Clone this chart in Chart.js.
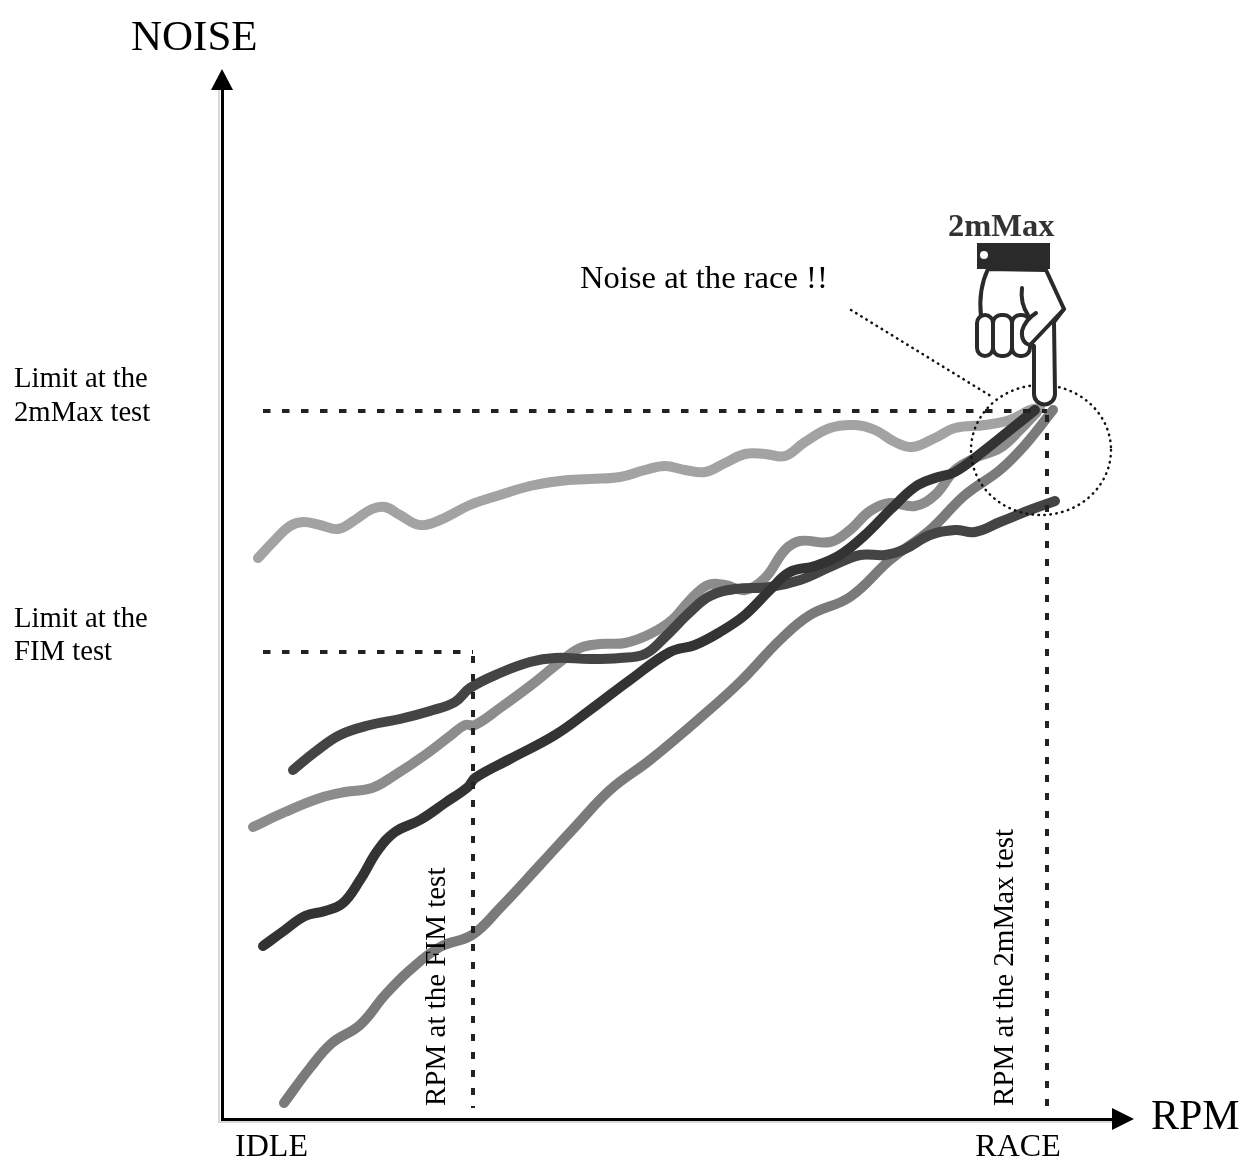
<!DOCTYPE html>
<html>
<head>
<meta charset="utf-8">
<title>Noise vs RPM</title>
<script src="https://cdn.jsdelivr.net/npm/chart.js@4"></script>
<style>
  html, body { margin: 0; padding: 0; background: #fff; }
  canvas { display: block; }
</style>
</head>
<body>
<canvas id="myChart" width="1245" height="1160"></canvas>
<script>
const rpmTicks = [49.5, 796];
const rpmTickLabels = ['IDLE', 'RACE'];

const rpmA = [36,53,68,81,98,116,133,150,163,178,198,218,248,278,308,338,368,398,423,443,463,483,503,523,543,563,583,608,633,653,673,690,713,733,763,788,808,818];
const noiseA = [561,579,593,597,594,590,599,610,612,604,594,599,614,624,633,638,640,642,649,653,649,647,656,665,665,663,677,691,694,689,677,672,681,691,694,699,709,711];

const rpmB = [31,63,98,123,150,173,203,228,243,253,278,308,338,358,378,403,428,450,468,486,503,523,543,563,578,608,628,648,668,693,713,733,753,778,798,815];
const noiseB = [292,307,321,327,331,344,364,383,394,394,411,433,457,471,475,476,485,499,519,534,534,529,541,569,578,577,589,608,616,613,624,649,661,671,689,707];

const rpmC = [71,93,118,148,178,208,233,248,278,308,333,368,398,423,443,468,488,513,548,578,608,638,663,683,708,733,753,778,808,833];
const noiseC = [349,367,384,394,400,408,417,431,446,457,461,460,461,465,482,507,523,530,532,539,552,564,564,570,584,589,587,597,609,618];

const rpmD = [41,63,83,103,121,138,156,173,198,223,246,253,288,333,368,408,448,473,498,523,548,568,593,618,643,668,693,713,733,763,788,813];
const noiseD = [173,189,203,208,216,239,269,287,299,316,332,341,360,384,409,439,467,474,487,504,529,547,553,564,584,609,632,641,647,669,689,709];

const rpmE = [62,88,110,138,163,188,218,250,278,318,353,388,428,478,518,558,588,628,668,708,743,778,803,831];
const noiseE = [16,51,76,94,124,149,172,184,211,254,292,329,359,401,437,479,504,522,559,589,624,649,674,709];

// test limits and test rpm
const limit2mMax = 708;
const limitFim = 467;
const rpmFim = 251;
const rpm2mMax = 825;

function pairs(xs, ys) {
  return xs.map((x, i) => ({x: x, y: ys[i]}));
}

function curve(xs, ys, color, order) {
  return {
    data: pairs(xs, ys),
    borderColor: color,
    borderWidth: 10,
    borderCapStyle: 'round',
    borderJoinStyle: 'round',
    pointRadius: 0,
    tension: 0.4,
    order: order
  };
}

function dashed(xs, ys, dash) {
  return {
    data: pairs(xs, ys),
    borderColor: '#222',
    borderWidth: 4,
    borderDash: dash,
    pointRadius: 0,
    tension: 0,
    order: 0
  };
}

const SERIF = '"Liberation Serif"';

// everything that is not a data mark: arrows, titles, notes, hand
const notes = {
  id: 'notes',
  beforeDraw(chart) {
    const c = chart.ctx;
    const a = chart.chartArea;
    // faint halo next to the axes
    c.save();
    c.strokeStyle = '#d8d8d8';
    c.lineWidth = 2;
    c.beginPath();
    c.moveTo(a.left - 3, a.top);
    c.lineTo(a.left - 3, a.bottom + 3);
    c.lineTo(a.right, a.bottom + 3);
    c.stroke();
    c.restore();
  },
  afterDraw(chart) {
    const c = chart.ctx;
    const a = chart.chartArea;

    c.save();
    c.fillStyle = '#000';
    // arrow heads
    c.beginPath();
    c.moveTo(a.right, a.bottom - 11);
    c.lineTo(a.right + 22, a.bottom);
    c.lineTo(a.right, a.bottom + 11);
    c.closePath();
    c.fill();
    c.beginPath();
    c.moveTo(a.left - 11, a.top);
    c.lineTo(a.left, a.top - 21);
    c.lineTo(a.left + 11, a.top);
    c.closePath();
    c.fill();

    const put = (t, x, y, font, color) => {
      c.font = font;
      c.fillStyle = color || '#000';
      c.textAlign = 'left';
      c.textBaseline = 'alphabetic';
      c.fillText(t, x, y);
    };
    put('NOISE', 131, 50, '43px ' + SERIF);
    put('RPM', 1151, 1129, '42px ' + SERIF);
    put('Limit at the', 14, 387, '28.7px ' + SERIF);
    put('2mMax test', 14, 421, '28.7px ' + SERIF);
    put('Limit at the', 14, 627, '28.7px ' + SERIF);
    put('FIM test', 14, 660, '28.7px ' + SERIF);
    put('Noise at the race !!', 580, 288, '32.6px ' + SERIF);
    put('2mMax', 948, 236, 'bold 32.5px ' + SERIF, '#333');

    const vert = (t, x, y) => {
      c.save();
      c.translate(x, y);
      c.rotate(-Math.PI / 2);
      put(t, 0, 0, '29px ' + SERIF);
      c.restore();
    };
    vert('RPM at the FIM test', 445, 1106);
    vert('RPM at the 2mMax test', 1013, 1106);

    // dotted circle and leader
    c.strokeStyle = '#111';
    c.lineWidth = 2.5;
    c.lineCap = 'round';
    c.setLineDash([0.5, 5.5]);
    c.beginPath();
    c.ellipse(1041, 450, 70, 65, 0, 0, Math.PI * 2);
    c.stroke();
    c.beginPath();
    c.moveTo(851, 310);
    c.lineTo(994, 398);
    c.stroke();
    c.setLineDash([]);

    // pointing hand
    c.strokeStyle = '#2a2a2a';
    c.lineWidth = 4;
    c.lineJoin = 'round';
    c.fillStyle = '#fff';
    c.beginPath();
    c.moveTo(988, 269);
    c.quadraticCurveTo(978, 290, 981, 316);
    c.lineTo(1034, 346);
    c.lineTo(1034, 392);
    c.arc(1044.5, 394, 10.5, Math.PI, 0, true);
    c.lineTo(1054, 322);
    c.lineTo(1064, 309);
    c.lineTo(1046, 270);
    c.closePath();
    c.fill();
    c.stroke();
    // three fingers
    [[977, 16], [993, 19], [1012, 18]].forEach(f => {
      c.beginPath();
      c.roundRect(f[0], 315, f[1], 41, 8);
      c.fill();
      c.stroke();
    });
    // thumb
    c.beginPath();
    c.moveTo(1064, 309);
    c.lineTo(1030, 345);
    c.quadraticCurveTo(1021, 343, 1022, 331);
    c.quadraticCurveTo(1025, 320, 1036, 313);
    c.lineTo(1064, 309);
    c.fill();
    c.beginPath();
    c.moveTo(1064, 309);
    c.lineTo(1030, 345);
    c.quadraticCurveTo(1021, 343, 1022, 331);
    c.quadraticCurveTo(1025, 320, 1036, 313);
    c.stroke();
    // crease
    c.beginPath();
    c.moveTo(1022, 288);
    c.quadraticCurveTo(1020, 303, 1028, 315);
    c.stroke();
    // cuff
    c.fillStyle = '#2a2a2a';
    c.fillRect(977, 243, 73, 26);
    c.fillStyle = '#fff';
    c.beginPath();
    c.arc(984, 255, 4, 0, Math.PI * 2);
    c.fill();
    c.restore();
  }
};

new Chart(document.getElementById('myChart'), {
  type: 'line',
  data: {
    datasets: [
      dashed([41, rpm2mMax], [limit2mMax, limit2mMax], [7.5, 11.5]),
      dashed([41, rpmFim], [limitFim, limitFim], [7.5, 11.5]),
      dashed([rpmFim, rpmFim], [limitFim - 4, 11], [7, 11]),
      dashed([rpm2mMax, rpm2mMax], [limit2mMax - 4, 4], [7, 11]),
      curve(rpmA, noiseA, '#a3a3a3', 5),
      curve(rpmB, noiseB, '#8c8c8c', 4),
      curve(rpmE, noiseE, '#7a7a7a', 3),
      curve(rpmC, noiseC, '#444444', 2),
      curve(rpmD, noiseD, '#333333', 1)
    ]
  },
  options: {
    responsive: false,
    animation: false,
    devicePixelRatio: 1,
    layout: {padding: {left: 222, right: 133, top: 90, bottom: 0}},
    plugins: {legend: {display: false}, tooltip: {enabled: false}},
    scales: {
      x: {
        type: 'linear',
        min: 0,
        max: 890,
        grid: {display: false, drawTicks: false},
        border: {display: true, color: '#000', width: 3},
        afterBuildTicks: s => { s.ticks = rpmTicks.map(v => ({value: v})); },
        afterFit: s => { s.height = 41; },
        ticks: {
          autoSkip: false,
          maxRotation: 0,
          padding: 9,
          color: '#000',
          font: {family: 'Liberation Serif', size: 32},
          callback: v => rpmTickLabels[rpmTicks.indexOf(v)]
        }
      },
      y: {
        type: 'linear',
        min: 0,
        max: 1029,
        grid: {display: false, drawTicks: false},
        border: {display: true, color: '#000', width: 3},
        ticks: {display: false},
        afterFit: s => { s.width = 0; }
      }
    }
  },
  plugins: [notes]
});
</script>
</body>
</html>
